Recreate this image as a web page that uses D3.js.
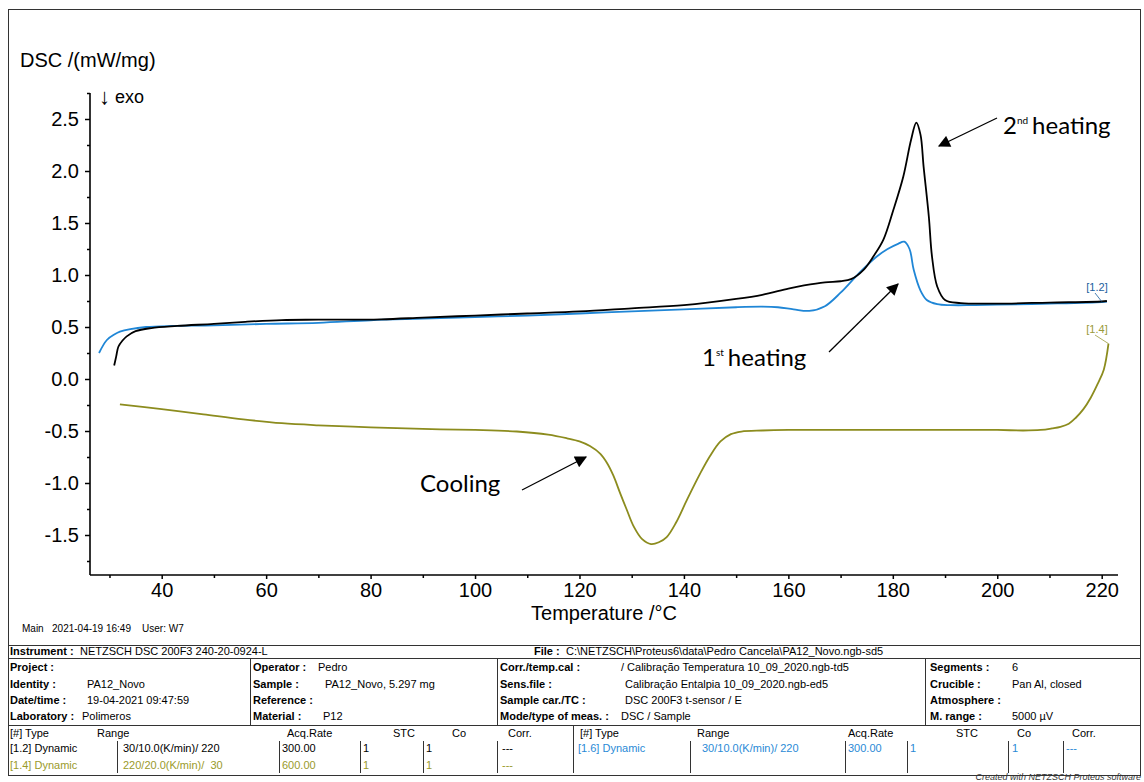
<!DOCTYPE html>
<html>
<head>
<meta charset="utf-8">
<script src="https://cdn.jsdelivr.net/npm/d3@7"></script>
<style>
  html, body { margin: 0; padding: 0; background: #fff; }
  svg { display: block; }
</style>
</head>
<body>
<svg id="chart" width="1144" height="782"></svg>
<script>
// DSC curves of PA12: 1st heating, 2nd heating and cooling (mW/mg vs °C)
const heat1Temp = [28.0, 29.5, 31, 32, 34, 37, 42, 50, 60, 70, 80, 90, 100, 110, 120, 130, 140, 150, 155, 158, 161, 164, 167, 170, 173, 175, 177, 179, 181, 182.2, 183.2, 184, 185.3, 186.5, 188.5, 191, 195, 200, 210, 220, 221];
const heat1Dsc  = [0.25, 0.375, 0.43, 0.455, 0.48, 0.50, 0.51, 0.515, 0.53, 0.54, 0.565, 0.58, 0.595, 0.61, 0.63, 0.65, 0.67, 0.69, 0.695, 0.69, 0.67, 0.655, 0.70, 0.83, 0.99, 1.09, 1.18, 1.25, 1.30, 1.32, 1.25, 1.05, 0.85, 0.76, 0.72, 0.71, 0.71, 0.715, 0.725, 0.74, 0.745];

const heat2Temp = [30.9, 31.3, 31.7, 32.5, 33.3, 35, 38, 43, 50, 56, 63, 70, 82, 90, 100, 110, 120, 130, 140, 150, 155, 160, 163, 167, 170, 172, 174.4, 176.3, 178.2, 180.1, 182, 183.5, 184.5, 185.3, 185.9, 186.9, 187.5, 188.5, 190, 193, 200, 210, 220, 221];
const heat2Dsc  = [0.13, 0.22, 0.31, 0.37, 0.41, 0.46, 0.49, 0.51, 0.53, 0.55, 0.567, 0.57, 0.574, 0.59, 0.61, 0.63, 0.65, 0.68, 0.71, 0.77, 0.81, 0.87, 0.90, 0.93, 0.94, 0.96, 1.05, 1.18, 1.34, 1.625, 1.945, 2.3, 2.465, 2.35, 2.04, 1.56, 1.18, 0.89, 0.76, 0.73, 0.725, 0.735, 0.745, 0.75];

const coolTemp = [32, 40, 48, 55.6, 63, 70, 80, 90, 100, 108, 114, 117.6, 120, 122, 124, 125.3, 126.5, 127.8, 129, 130.4, 132, 133.7, 135.2, 136.7, 138.5, 140.6, 143.1, 145, 147, 149, 151, 155, 160, 170, 180, 190, 200, 205, 208.3, 210.5, 212.1, 213.7, 215, 216.5, 217.9, 219.2, 220.4, 221.3];
const coolDsc  = [-0.243, -0.29, -0.34, -0.388, -0.425, -0.445, -0.465, -0.48, -0.49, -0.505, -0.535, -0.57, -0.60, -0.645, -0.72, -0.81, -0.93, -1.10, -1.25, -1.42, -1.54, -1.587, -1.57, -1.52, -1.38, -1.16, -0.91, -0.74, -0.60, -0.53, -0.505, -0.495, -0.49, -0.49, -0.49, -0.49, -0.49, -0.495, -0.49, -0.475, -0.46, -0.43, -0.375, -0.29, -0.18, -0.05, 0.09, 0.34];

const xTicks = [40, 60, 80, 100, 120, 140, 160, 180, 200, 220];
const yTicks = [-1.5, -1.0, -0.5, 0.0, 0.5, 1.0, 1.5, 2.0, 2.5];

const svg = d3.select("#chart");
const axisFont = "'Liberation Sans', Arial, sans-serif";
const noteFont = "Lato, 'Open Sans', sans-serif";

const x = d3.scaleLinear().domain([40, 220]).range([161.7, 1101.7]);
const y = d3.scaleLinear().domain([0, 2.5]).range([379, 119]);
const xMax = x.invert(1118);
const yMax = y.invert(93);

// outer frame
svg.append("rect").attr("x", 8.5).attr("y", 9.5).attr("width", 1132).attr("height", 766)
  .attr("fill", "none").attr("stroke", "#333").attr("stroke-width", 1);

// axes (plain hyphen for negative numbers)
const fmtY = d => d3.format(".1f")(d).replace("−", "-");
const yAxis = d3.axisLeft(y).tickValues(yTicks).tickSize(5).tickPadding(6).tickFormat(fmtY);
const yMinor = d3.axisLeft(y).tickValues(d3.range(-1.75, 2.76, 0.5)).tickSize(3).tickFormat("");
const xAxis = d3.axisBottom(x).tickValues(xTicks).tickSize(4).tickPadding(4).tickFormat(d3.format("d"));
const xMinor = d3.axisBottom(x).tickValues(d3.range(30, 221, 20)).tickSize(3).tickFormat("");

function styleAxis(g) {
  g.selectAll(".domain").remove();
  g.selectAll(".tick line").attr("stroke", "#000").attr("stroke-width", 1.5);
  g.selectAll(".tick text").attr("font-family", axisFont).attr("font-size", 20).attr("fill", "#000");
}
svg.append("g").attr("transform", "translate(90,0)").call(yAxis).call(styleAxis);
svg.append("g").attr("transform", "translate(90,0)").call(yMinor).call(styleAxis);
svg.append("g").attr("transform", "translate(0,575)").call(xAxis).call(styleAxis);
svg.append("g").attr("transform", "translate(0,575)").call(xMinor).call(styleAxis);

svg.append("line").attr("x1", 90).attr("x2", 90).attr("y1", y(yMax)).attr("y2", 575)
  .attr("stroke", "#000").attr("stroke-width", 1.6);
svg.append("line").attr("x1", 90).attr("x2", x(xMax)).attr("y1", 575).attr("y2", 575)
  .attr("stroke", "#000").attr("stroke-width", 1.6);

// axis titles
svg.append("text").attr("x", 20).attr("y", 67).text("DSC /(mW/mg)")
  .attr("font-family", axisFont).attr("font-size", 20).attr("fill", "#000");
svg.append("text").attr("x", 99).attr("y", 104).text("↓")
  .attr("font-family", axisFont).attr("font-size", 22).attr("fill", "#000");
svg.append("text").attr("x", 115).attr("y", 103).text("exo")
  .attr("font-family", axisFont).attr("font-size", 18).attr("fill", "#000");
svg.append("text").attr("x", 604).attr("y", 620).attr("text-anchor", "middle").text("Temperature /°C")
  .attr("font-family", axisFont).attr("font-size", 20).attr("fill", "#000");

// curves
const line = d3.line().x(d => x(d[0])).y(d => y(d[1])).curve(d3.curveCatmullRom.alpha(0.5));
const series = [
  { t: coolTemp, v: coolDsc, color: "#8c8c1e" },
  { t: heat1Temp, v: heat1Dsc, color: "#1f86d6" },
  { t: heat2Temp, v: heat2Dsc, color: "#000000" }
];
series.forEach(s => {
  svg.append("path").datum(d3.zip(s.t, s.v)).attr("d", line)
    .attr("fill", "none").attr("stroke", s.color).attr("stroke-width", 1.8);
});

// curve labels with leaders
function curveLabel(text, color, t, v, lx, ly) {
  svg.append("text").attr("x", lx).attr("y", ly).attr("text-anchor", "middle").text(text)
    .attr("font-family", axisFont).attr("font-size", 11).attr("fill", color);
  svg.append("line").attr("x1", lx - 2).attr("y1", ly + 2).attr("x2", x(t)).attr("y2", y(v))
    .attr("stroke", color).attr("stroke-width", 0.8);
}
curveLabel("[1.2]", "#1a5e9e", 220, 0.745, 1097, 291);
curveLabel("[1.4]", "#9a9a3a", 221.3, 0.34, 1097, 333);

// annotations
const defs = svg.append("defs");
defs.append("marker").attr("id", "head").attr("viewBox", "0 0 10 10").attr("refX", 9).attr("refY", 5)
  .attr("markerWidth", 14).attr("markerHeight", 12).attr("markerUnits", "userSpaceOnUse").attr("orient", "auto")
  .append("path").attr("d", "M0,0 L10,5 L0,10 z").attr("fill", "#000");
function arrow(x1, y1, x2, y2) {
  svg.append("line").attr("x1", x1).attr("y1", y1).attr("x2", x2).attr("y2", y2)
    .attr("stroke", "#000").attr("stroke-width", 1.3).attr("marker-end", "url(#head)");
}
arrow(997, 118, 939, 146);
arrow(829, 352, 898, 284);
arrow(522, 490, 586, 457);

function note(xp, yp, main, sup, rest) {
  const t = svg.append("text").attr("x", xp).attr("y", yp)
    .attr("font-family", noteFont).attr("font-size", 24).attr("fill", "#000");
  t.append("tspan").text(main);
  if (sup) t.append("tspan").attr("font-size", 10).attr("dy", -10).text(sup);
  if (rest) t.append("tspan").attr("dy", sup ? 10 : 0).attr("dx", 4).text(rest);
}
note(1003, 134, "2", "nd", "heating");
note(702, 366, "1", "st", "heating");
note(420, 492, "Cooling");

// footer
svg.append("text").attr("x", 22).attr("y", 632).text("Main   2021-04-19 16:49    User: W7")
  .attr("font-family", axisFont).attr("font-size", 10).attr("fill", "#000").attr("xml:space", "preserve");

// info table
const tbl = svg.append("g").attr("font-family", axisFont).attr("font-size", 11);
function hline(yp, x1 = 8, x2 = 1141) {
  tbl.append("line").attr("x1", x1).attr("x2", x2).attr("y1", yp).attr("y2", yp).attr("stroke", "#333").attr("stroke-width", 1);
}
function vline(xp, y1, y2) {
  tbl.append("line").attr("x1", xp).attr("x2", xp).attr("y1", y1).attr("y2", y2).attr("stroke", "#333").attr("stroke-width", 1);
}
function txt(xp, yp, s, opts = {}) {
  tbl.append("text").attr("x", xp).attr("y", yp).text(s)
    .attr("font-weight", opts.bold ? "bold" : "normal").attr("fill", opts.color || "#000");
}
hline(645.5); hline(658.5); hline(725.5); hline(775.5);
vline(250.5, 658, 725); vline(497.5, 658, 725); vline(925.5, 658, 725);
[117, 279, 360, 423, 497, 573, 690, 845, 907, 1008, 1063].forEach(xp => vline(xp + 0.5, 741, 773));
vline(573.5, 726, 741);

txt(10, 655, "Instrument :", { bold: true }); txt(80, 655, "NETZSCH DSC 200F3 240-20-0924-L");
txt(534, 655, "File :", { bold: true }); txt(566, 655, "C:\\NETZSCH\\Proteus6\\data\\Pedro Cancela\\PA12_Novo.ngb-sd5");

const rowsY = [671, 688, 704, 720];
txt(10, rowsY[0], "Project :", { bold: true });
txt(10, rowsY[1], "Identity :", { bold: true }); txt(87, rowsY[1], "PA12_Novo");
txt(10, rowsY[2], "Date/time :", { bold: true }); txt(87, rowsY[2], "19-04-2021 09:47:59");
txt(10, rowsY[3], "Laboratory :", { bold: true }); txt(82, rowsY[3], "Polimeros");

txt(253, rowsY[0], "Operator :", { bold: true }); txt(318, rowsY[0], "Pedro");
txt(253, rowsY[1], "Sample :", { bold: true }); txt(325, rowsY[1], "PA12_Novo, 5.297 mg");
txt(253, rowsY[2], "Reference :", { bold: true });
txt(253, rowsY[3], "Material :", { bold: true }); txt(323, rowsY[3], "P12");

txt(500, rowsY[0], "Corr./temp.cal :", { bold: true }); txt(621, rowsY[0], "/ Calibração Temperatura 10_09_2020.ngb-td5");
txt(500, rowsY[1], "Sens.file :", { bold: true }); txt(625, rowsY[1], "Calibração Entalpia 10_09_2020.ngb-ed5");
txt(500, rowsY[2], "Sample car./TC :", { bold: true }); txt(625, rowsY[2], "DSC 200F3 t-sensor / E");
txt(500, rowsY[3], "Mode/type of meas. :", { bold: true }); txt(621, rowsY[3], "DSC / Sample");

txt(930, rowsY[0], "Segments :", { bold: true }); txt(1012, rowsY[0], "6");
txt(930, rowsY[1], "Crucible :", { bold: true }); txt(1012, rowsY[1], "Pan Al, closed");
txt(930, rowsY[2], "Atmosphere :", { bold: true });
txt(930, rowsY[3], "M. range :", { bold: true }); txt(1012, rowsY[3], "5000 µV");

const headX = [10, 97, 287, 393, 452, 508, 580, 697, 848, 956, 1017, 1072];
const headers = ["[#] Type", "Range", "Acq.Rate", "STC", "Co", "Corr.", "[#] Type", "Range", "Acq.Rate", "STC", "Co", "Corr."];
headers.forEach((h, i) => txt(headX[i], 737, h));

const cellX = [10, 123, 282, 363, 426, 502];
const segRow12 = ["[1.2] Dynamic", "30/10.0(K/min)/ 220", "300.00", "1", "1", "---"];
const segRow14 = ["[1.4] Dynamic", "220/20.0(K/min)/  30", "600.00", "1", "1", "---"];
const segRow16 = ["[1.6] Dynamic", "30/10.0(K/min)/ 220", "300.00", "1", "1", "---"];
const cellX2 = [578, 702, 848, 910, 1012, 1066];
segRow12.forEach((s, i) => txt(cellX[i], 752, s));
segRow14.forEach((s, i) => txt(cellX[i], 769, s, { color: "#9a9a2a" }));
segRow16.forEach((s, i) => txt(cellX2[i], 752, s, { color: "#2a8ad6" }));
tbl.selectAll("text").attr("xml:space", "preserve");

svg.append("text").attr("x", 1141).attr("y", 780).attr("text-anchor", "end")
  .text("Created with NETZSCH Proteus software").attr("font-family", axisFont)
  .attr("font-size", 9).attr("font-style", "italic").attr("fill", "#333");
</script>
</body>
</html>
